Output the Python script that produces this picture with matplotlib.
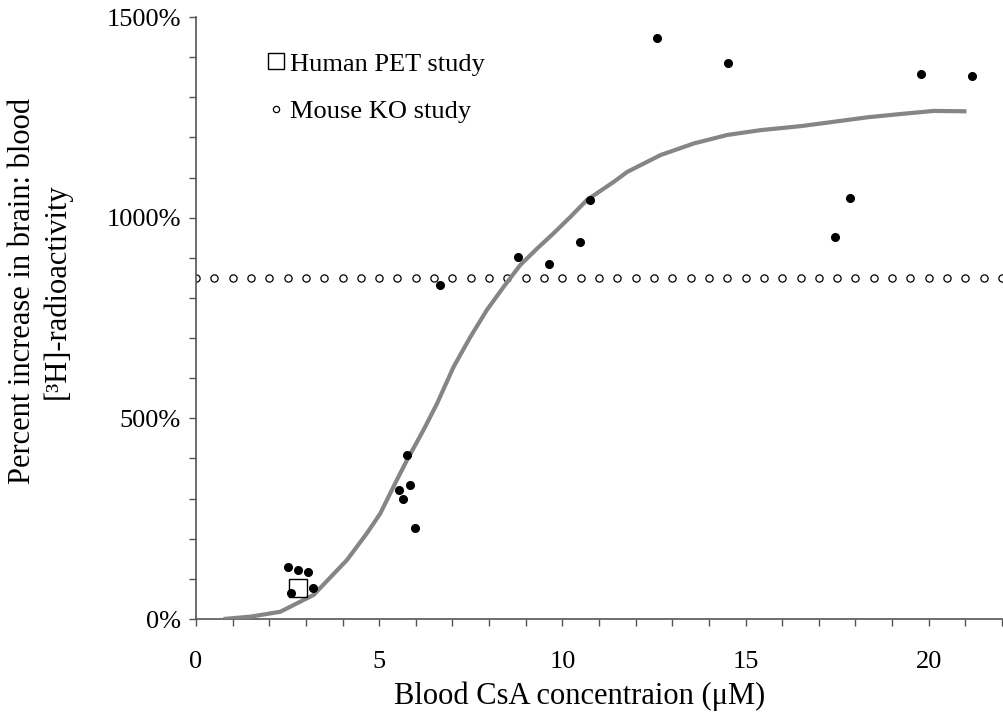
import numpy as np
import matplotlib
matplotlib.use("Agg")
import matplotlib.pyplot as plt
from matplotlib.lines import Line2D
from matplotlib.ticker import MultipleLocator, FuncFormatter

plt.rcParams['font.family'] = ['Liberation Serif', 'DejaVu Serif']

# Mouse KO study data (blood CsA µM, % increase)
ko_x = [2.52, 2.78, 3.06, 2.60, 3.20, 5.77, 5.55, 5.84, 5.66, 5.99, 6.65,
        8.79, 9.64, 10.49, 10.75, 12.57, 14.52, 17.44, 17.86, 19.78, 21.17]
ko_y = [129, 122, 116, 65, 76, 408, 321, 334, 299, 226, 833,
        901, 885, 940, 1045, 1447, 1385, 953, 1050, 1358, 1353]

# Human PET study
pet_x = [2.78]
pet_y = [78]

# Fitted curve
fit_x = [0.75, 1.5, 2.3, 3.21, 4.12, 4.66, 5.03, 5.48, 5.76, 6.21, 6.58,
         7.03, 7.49, 7.94, 8.40, 8.85, 9.31, 9.76, 10.22, 10.67, 11.40,
         11.77, 12.68, 13.59, 14.5, 15.4, 16.5, 17.5, 18.32, 19.2, 20.14, 21.03]
fit_y = [0, 6, 18, 60, 147, 213, 263, 346, 396, 471, 537,
         628, 703, 770, 828, 882, 923, 961, 1002, 1044, 1089,
         1114, 1156, 1185, 1206, 1218, 1228, 1240, 1250, 1258, 1266, 1265]

# Reference level (open circles)
ref_level = 850
ref_x = np.arange(0, 22.01, 0.5)

x_major = [0, 5, 10, 15, 20]
y_major = [0, 500, 1000, 1500]

fig = plt.figure(figsize=(10.04, 7.17), dpi=100)
ax = fig.add_axes([196/1004, (717-619)/717, (1002-196)/1004, 602/717])

ax.plot(ref_x, [ref_level]*len(ref_x), linestyle='none', marker='o', ms=5.2,
        mfc='white', mec='black', mew=0.9, zorder=2)
ax.plot(fit_x, fit_y, color='#858585', lw=3, solid_capstyle='butt',
        solid_joinstyle='round', zorder=3)
ax.plot(ko_x, ko_y, linestyle='none', marker='o', ms=5.5, mfc='black',
        mec='black', zorder=4)
ax.plot(pet_x, pet_y, linestyle='none', marker='s', ms=13.5, mfc='none',
        mec='black', mew=1.0, zorder=5)

ax.set_xlim(0, 22)
ax.set_ylim(0, 1500)
ax.set_xticks(x_major)
ax.xaxis.set_minor_locator(MultipleLocator(1))
ax.set_yticks(y_major)
ax.yaxis.set_minor_locator(MultipleLocator(100))
ax.yaxis.set_major_formatter(FuncFormatter(lambda v, p: f"{int(v)}%"))

for s in ['top', 'right']:
    ax.spines[s].set_visible(False)
for s in ['left', 'bottom']:
    ax.spines[s].set_color('#555555')
    ax.spines[s].set_linewidth(1.2)

ax.tick_params(axis='x', which='both', direction='out', length=5, width=1,
               color='#555555', labelsize=19, pad=18)
ax.tick_params(axis='y', which='both', direction='out', length=5, width=1,
               color='#555555', labelsize=19, pad=6)

ax.set_xlabel("Blood CsA concentraion (μM)", fontsize=22)
ax.xaxis.set_label_coords((580-196)/806, (619-696)/602)
ax.xaxis.label.set_va('center')

ax.set_ylabel("Percent increase in brain: blood\n[³H]-radioactivity",
              fontsize=22, linespacing=1.2)
ax.yaxis.set_label_coords((40-196)/806, (619-291)/602)
ax.yaxis.label.set_va('center')

handles = [Line2D([], [], linestyle='none', marker='s', ms=11, mfc='none',
                  mec='black', mew=1.0),
           Line2D([], [], linestyle='none', marker='o', ms=4.5, mfc='white',
                  mec='black', mew=0.9)]
ax.legend(handles, ["Human PET study", "Mouse KO study"], loc='center left',
          bbox_to_anchor=((268-196)/806, (619-87.5)/602), frameon=False,
          fontsize=19, handlelength=0.6, handletextpad=0.25, labelspacing=0.9,
          borderpad=0, borderaxespad=0)

fig.savefig("out.png", dpi=100)
